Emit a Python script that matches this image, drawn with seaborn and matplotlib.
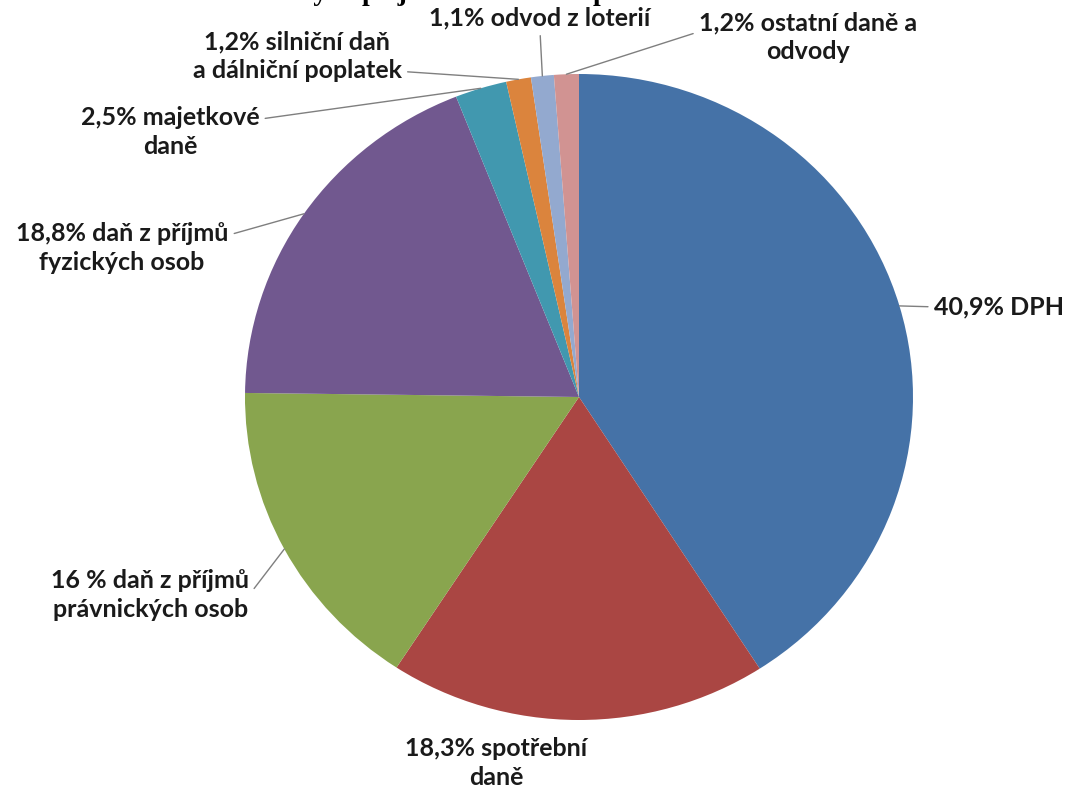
import matplotlib
matplotlib.use("Agg")
import matplotlib.pyplot as plt
import seaborn as sns
import numpy as np

# ---- data ----
categories = [
    "40,9% DPH",
    "18,3% spotřební\ndaně",
    "16 % daň z příjmů\nprávnických osob",
    "18,8% daň z příjmů\nfyzických osob",
    "2,5% majetkové\ndaně",
    "1,2% silniční daň\na dálniční poplatek",
    "1,1% odvod z loterií",
    "1,2% ostatní daně a\nodvody",
]
values = [40.9, 18.3, 16.0, 18.8, 2.5, 1.2, 1.1, 1.2]
colors = ["#4572A7", "#AA4643", "#89A54E", "#71588F",
          "#4198AF", "#DB843D", "#93A9CF", "#D19392"]
title = "Struktura daňových příjmů státního rozpočtu"

sns.set_theme(style="white")
plt.rcParams["font.family"] = ["Lato", "DejaVu Sans"]
palette = sns.color_palette(colors)

W, H = 1066, 790
fig = plt.figure(figsize=(W / 100, H / 100), dpi=100)
fig.patch.set_facecolor("white")

cx, cy, RX, RY = 579, 397, 334, 323
ax = fig.add_axes([(cx - RX) / W, (H - cy - RY) / H, 2 * RX / W, 2 * RY / H])
wedges, _ = ax.pie(values, colors=palette, startangle=90, counterclock=False,
                   radius=1.0, wedgeprops=dict(linewidth=0))
ax.set_aspect("auto")
ax.set_xlim(-1, 1)
ax.set_ylim(-1, 1)
ax.axis("off")

# label layout (axes data units, radius = 1)
label_pos = [(1.063, 0.279), (-0.249, -1.133), (-1.284, -0.613), (-1.368, 0.461),
             (-1.225, 0.820), (-0.844, 1.056), (-0.117, 1.173), (0.686, 1.115)]
label_ha = ["left", "center", "center", "center", "center", "center", "center", "center"]
relpos = [(0, 0.5), None, (1, 0.5), (1, 0.75), (1, 0.75), (1, 0.2), (0.5, 0.0), (0, 0.6)]

for w, lab, (tx, ty), ha, rp in zip(wedges, categories, label_pos, label_ha, relpos):
    ang = np.deg2rad((w.theta1 + w.theta2) / 2)
    xy = (np.cos(ang), np.sin(ang))
    kw = {}
    if rp is not None:
        kw["arrowprops"] = dict(arrowstyle="-", color="#7f7f7f", lw=1.0,
                                shrinkA=2, shrinkB=0, relpos=rp)
    ax.annotate(lab, xy=xy, xytext=(tx, ty), textcoords="data",
                ha=ha, va="center", multialignment="center",
                fontsize=18, fontweight="bold", color="#1a1a1a",
                linespacing=1.3, annotation_clip=False, **kw)

# title, cut off at the top edge as in the reference
fig.text(115 / W, 1 + 0.5 / H, title, ha="left", va="baseline",
         fontsize=20, fontweight="bold", family=["Liberation Serif"], color="black")

fig.savefig("out.png", dpi=100, facecolor="white")
